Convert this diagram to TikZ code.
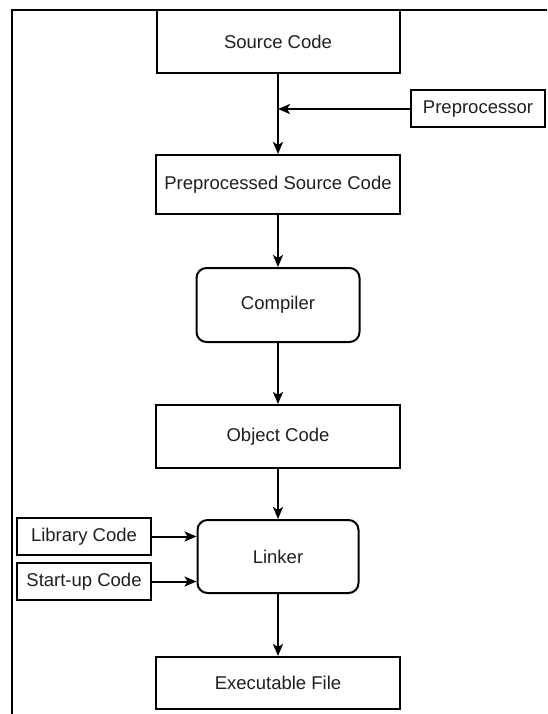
\documentclass[tikz,border=0pt]{standalone}
\usepackage{fontspec}
\setmainfont{Liberation Sans}
\usetikzlibrary{arrows.meta}
\begin{document}
\begin{tikzpicture}[x=1pt,y=-1pt,
  every node/.style={font=\fontsize{18.5}{22}\selectfont, text=black!88},
  sqbox/.style={draw, line width=2pt, inner sep=0pt},
  rbox/.style={draw, line width=2pt, rounded corners=10pt, inner sep=0pt},
  flow/.style={line width=2pt, -{Stealth[length=12pt,width=10pt,inset=3pt]}}]
\useasboundingbox (0,0) rectangle (547,714);
% frame
\draw[line width=1.6pt] (547,10) -- (12,10) -- (12,714);
% boxes
\node[sqbox, minimum width=243pt, minimum height=63pt] (src) at (278,41.5) {Source Code};
\node[sqbox, minimum width=134pt, minimum height=37pt] (pre) at (478,109) {Preprocessor};
\node[sqbox, minimum width=244pt, minimum height=59pt] (pp) at (278,184.5) {Preprocessed Source Code};
\node[rbox, minimum width=163pt, minimum height=74pt] (comp) at (278,305) {Compiler};
\node[sqbox, minimum width=244pt, minimum height=63pt] (obj) at (278,436.5) {Object Code};
\node[rbox, minimum width=161pt, minimum height=73pt] (link) at (278,556.5) {Linker};
\node[sqbox, minimum width=134pt, minimum height=37pt] (lib) at (84,536.5) {Library Code};
\node[sqbox, minimum width=134pt, minimum height=37pt] (start) at (84,581.5) {Start-up Code};
\node[sqbox, minimum width=244pt, minimum height=52pt] (exe) at (278,683) {Executable File};
% connectors
\coordinate (j) at (src.south |- pre.west);
\draw[flow] (src.south) -- (pp.north);
\draw[flow] (pre.west) -- (j);
\draw[flow] (pp.south) -- (comp.north);
\draw[flow] (comp.south) -- (obj.north);
\draw[flow] (obj.south) -- (link.north);
\draw[flow] (lib.east) -- (lib.east -| link.west);
\draw[flow] (start.east) -- (start.east -| link.west);
\draw[flow] (link.south) -- (exe.north);
\end{tikzpicture}
\end{document}
